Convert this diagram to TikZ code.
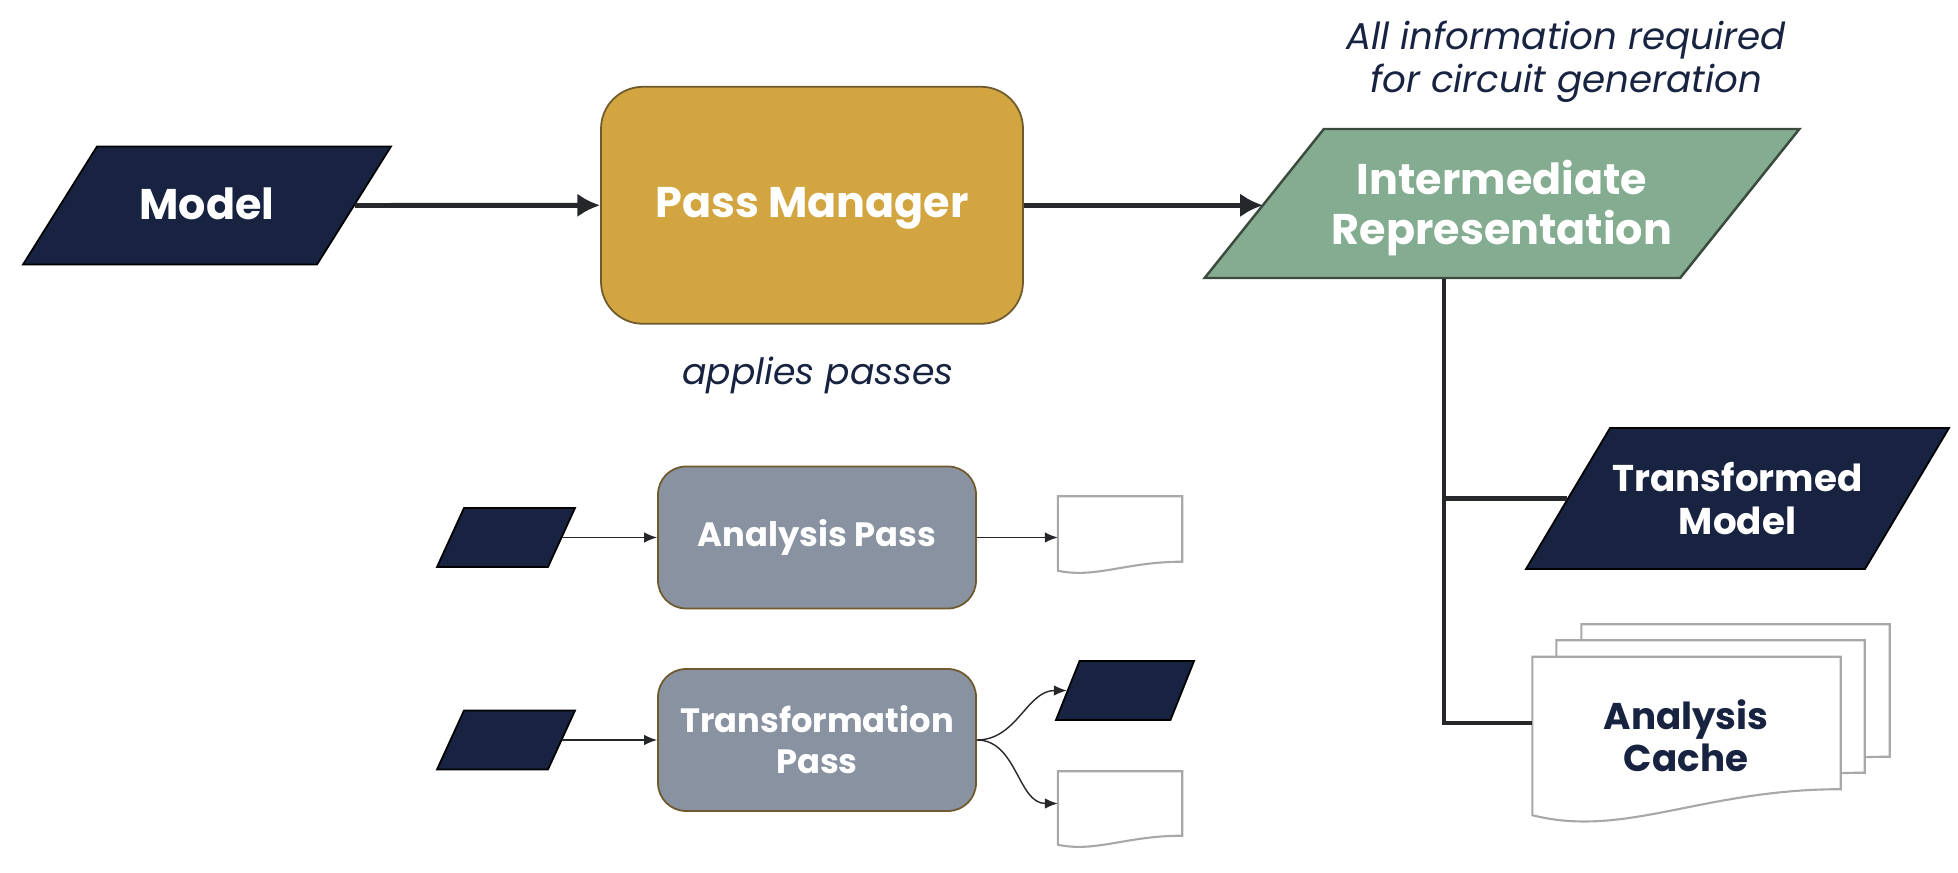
\documentclass[tikz,border=0pt]{standalone}
\usepackage{fontspec}
\setmainfont{Poppins}
\usepackage{tikz}
\usetikzlibrary{arrows.meta,calc}
\definecolor{navy}{HTML}{172340}
\definecolor{gold}{HTML}{D2A540}
\definecolor{goldline}{HTML}{6E5A2C}
\definecolor{sage}{HTML}{84AC90}
\definecolor{sageline}{HTML}{3B4B3D}
\definecolor{slate}{HTML}{8892A0}
\definecolor{ink}{HTML}{25272B}
\definecolor{paper}{HTML}{A8A8A8}
\tikzset{% change default arrow tips
    >={Latex[length=6.5pt,width=6.8pt]},
    paraform/.style={fill=navy, draw=black, line width=0.5pt, inner sep=0pt},
    passbox/.style={fill=slate, draw=goldline, line width=0.5pt, rounded corners=0.28cm,
        minimum width=3.18cm, minimum height=1.42cm, text=white, align=center,
        font=\bfseries\fontsize{9.6}{11.6}\selectfont},
    docform/.style={inner sep=0pt, minimum width=#1},
    docform/.default=1.23cm,
    docline/.style={draw=paper, fill=white, line width=0.6pt},
    shapetext/.style={text=white, align=center, font=\bfseries\fontsize{12.2}{14.2}\selectfont},
    note/.style={text=navy, align=center, font=\itshape\fontsize{10.6}{12.2}\selectfont},
    bigarrow/.style={->, draw=ink, line width=1.4pt},
    thinarrow/.style={-{Latex[length=3.7pt,width=3pt]}, draw=ink, line width=0.4pt},
    trunk/.style={draw=ink, line width=1.35pt}
}
% outline of a document with a wavy lower edge
\newcommand{\docoutline}[2]{%
    \filldraw[docline] (#1.north west) -- (#1.north east) -- (#1.south east)
        .. controls ($(#1.south east)!.45!(#1.south west)$)
        and ($(#1.south west)!.3!(#1.south east)+(0,-1.9*#2)$) .. ($(#1.south west)+(0,-#2)$) -- cycle;}

\begin{document}
\begin{tikzpicture}
    \useasboundingbox (0,0) rectangle (19.58,8.72);

    % top row
    \node[paraform, xslant=0.627, minimum width=2.94cm, minimum height=1.18cm] (model) at (2.07,6.665) {};
    \node[shapetext] (modellbl) at (2.07,6.68) {Model};

    \node[fill=gold, draw=goldline, line width=0.5pt, rounded corners=0.42cm, minimum width=4.22cm,
        minimum height=2.37cm] (pm) at (8.12,6.667) {};
    \node[shapetext] (pmlbl) at (8.12,6.635) {Pass Manager};
    \node[note, font=\itshape\fontsize{10.3}{12}\selectfont] (pmnote) at (8.18,4.97) {applies passes};

    \node[fill=sage, draw=sageline, line width=0.7pt, xslant=0.8, inner sep=0pt,
        minimum width=4.755cm, minimum height=1.49cm] (ir) at (15.02,6.685) {};
    \node[shapetext] (irlbl) at (15.02,6.64) {Intermediate\\Representation};
    \node[note] (irnote) at (15.66,8.1) {All information required\\for circuit generation};

    \draw[bigarrow] (model.east) -- (pm.west);
    \draw[bigarrow] (pm.east) -- (pm.east -| ir.west);

    % outputs of the IR
    \node[paraform, xslant=0.596, minimum width=3.39cm, minimum height=1.41cm] (tm) at (17.375,3.735) {};
    \node[shapetext, font=\bfseries\fontsize{10.6}{12.2}\selectfont] (tmlbl) at (tm) {Transformed\\Model};

    \node[docform=3.07cm, minimum height=1.31cm] (cache3) at (17.355,1.815) {};
    \docoutline{cache3}{0.26}
    \node[docform=3.07cm, minimum height=1.31cm] (cache2) at (17.105,1.655) {};
    \docoutline{cache2}{0.26}
    \node[docform=3.07cm, minimum height=1.31cm] (cache1) at (16.865,1.49) {};
    \docoutline{cache1}{0.26}
    \node[shapetext, text=navy, font=\bfseries\fontsize{10.6}{12}\selectfont] (cachelbl) at (16.86,1.36) {Analysis\\Cache};

    \coordinate (fork) at (14.44,1.49);
    \draw[trunk] (ir.south -| fork) -- (fork) -- (cache1.west);
    \draw[trunk] (tm.west -| fork) -- (tm.west);

    % analysis pass
    \node[paraform, xslant=0.458, minimum width=1.11cm, minimum height=0.59cm] (apin) at (5.06,3.345) {};
    \node[passbox] (ap) at (8.17,3.345) {Analysis Pass};
    \node[docform, minimum height=0.64cm] (apout) at (11.2,3.43) {};
    \docoutline{apout}{0.09}
    \draw[thinarrow] (apin.east) -- (ap.west);
    \draw[thinarrow] (ap.east) -- (ap.east -| apout.west);

    % transformation pass
    \node[paraform, xslant=0.458, minimum width=1.11cm, minimum height=0.59cm] (tpin) at (5.06,1.32) {};
    \node[passbox] (tp) at (8.17,1.32) {Transformation\\Pass};
    \node[paraform, xslant=0.4, minimum width=1.145cm, minimum height=0.59cm] (tpoutm) at (11.25,1.815) {};
    \node[docform, minimum height=0.63cm] (tpoutd) at (11.2,0.685) {};
    \docoutline{tpoutd}{0.09}
    \draw[thinarrow] (tpin.east) -- (tp.west);
    \draw[thinarrow] (tp.east) to[out=0, in=180] (tpoutm.west);
    \draw[thinarrow] (tp.east) to[out=0, in=180] (tpoutd.west);
\end{tikzpicture}
\end{document}
